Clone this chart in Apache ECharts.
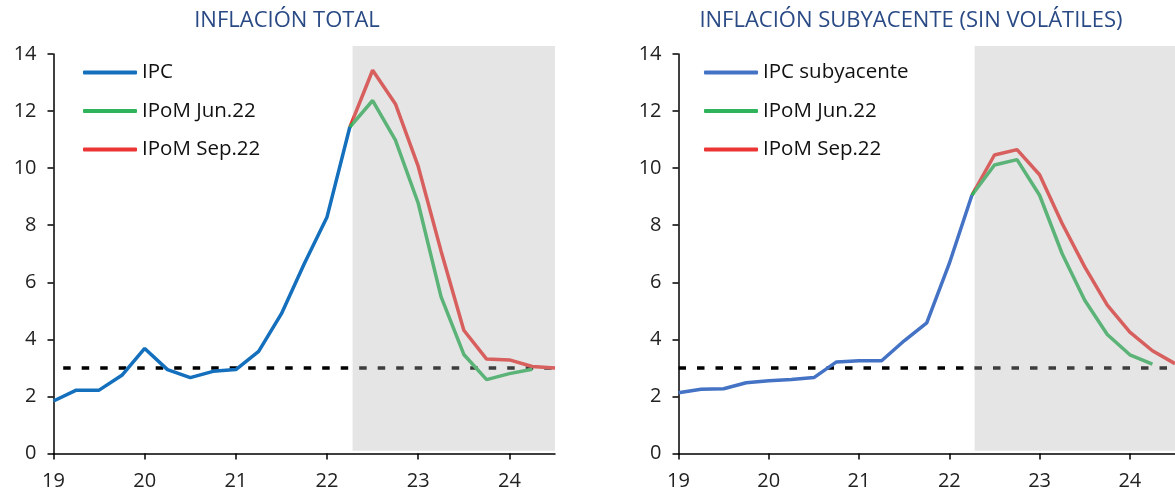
<!DOCTYPE html>
<html>
<head>
<meta charset="utf-8">
<script src="https://cdn.jsdelivr.net/npm/echarts@6/dist/echarts.min.js"></script>
<style>
  html, body { margin: 0; padding: 0; background: #fff; }
  #chart { width: 1175px; height: 493px; }
</style>
</head>
<body>
<div id="chart"></div>
<script>
// trimestres (años decimales)
const histQ = [19, 19.25, 19.5, 19.75, 20, 20.25, 20.5, 20.75, 21, 21.25, 21.5, 21.75, 22, 22.25];
const projQ = [22.25, 22.5, 22.75, 23, 23.25, 23.5, 23.75, 24, 24.25, 24.5];
const xTicks = [19, 20, 21, 22, 23, 24];
// zona de proyección: [x inicio, y base, x fin, y tope]
const shade = [22.28, 0.1, 24.5, 14.28];
const meta = 3;

// inflación total
const ipc = [1.84, 2.22, 2.22, 2.74, 3.68, 2.94, 2.66, 2.88, 2.94, 3.58, 4.9, 6.65, 8.29, 11.44];
const totJun = [11.44, 12.37, 10.98, 8.77, 5.5, 3.47, 2.59, 2.8, 2.95];
const totSep = [11.44, 13.43, 12.25, 10.06, 7.1, 4.32, 3.31, 3.28, 3.05, 3.0];

// inflación subyacente
const ipcSub = [2.13, 2.25, 2.27, 2.48, 2.55, 2.59, 2.66, 3.21, 3.25, 3.25, 3.95, 4.58, 6.66, 9.05];
const subJun = [9.05, 10.11, 10.3, 9.05, 7.0, 5.37, 4.17, 3.46, 3.13];
const subSep = [9.05, 10.46, 10.65, 9.77, 8.06, 6.54, 5.2, 4.25, 3.6, 3.15];

const FONT = "'Open Sans', 'Noto Sans', sans-serif";
const BLUE1 = "#1470bd", BLUE2 = "#4472c4", GREEN = "#2fb45c", RED = "#ec3434";

const pairs = (xs, ys) => ys.map((v, i) => [xs[i], v]);

function line(name, idx, xs, ys, color) {
  return {
    name: name,
    type: "line",
    xAxisIndex: idx,
    yAxisIndex: idx,
    data: pairs(xs, ys),
    showSymbol: false,
    symbol: "none",
    z: 2,
    lineStyle: { color: color, width: 3.5 },
    itemStyle: { color: color },
  };
}

function metaLine(idx, offset) {
  return {
    name: "meta",
    type: "line",
    xAxisIndex: idx,
    yAxisIndex: idx,
    data: [[xTicks[0], meta], [shade[2], meta]],
    showSymbol: false,
    symbol: "none",
    z: 1,
    lineStyle: { color: "#000", width: 3.5, type: [7.5, 11], dashOffset: offset },
  };
}

// velo gris semitransparente sobre las líneas (período proyectado)
function shadeSeries(idx) {
  return {
    name: "proyeccion",
    type: "custom",
    xAxisIndex: idx,
    yAxisIndex: idx,
    z: 5,
    silent: true,
    clip: false,
    encode: { x: [0, 2], y: [1, 3] },
    data: [shade],
    renderItem: function (params, api) {
      const p0 = api.coord([api.value(0), api.value(1)]);
      const p1 = api.coord([api.value(2), api.value(3)]);
      return {
        type: "rect",
        shape: { x: p0[0], y: p1[1], width: p1[0] - p0[0], height: p0[1] - p1[1] },
        style: { fill: "rgba(176,178,176,0.34)" },
      };
    },
  };
}

function xAxis(idx) {
  return {
    type: "value",
    gridIndex: idx,
    min: 19,
    max: 24.5,
    interval: 1,
    splitLine: { show: false },
    axisLine: { lineStyle: { color: "#000", width: 1.5 } },
    axisTick: { length: 6, lineStyle: { color: "#000", width: 1.5 }, customValues: xTicks },
    axisLabel: { customValues: xTicks, margin: 18, fontSize: 20, color: "#222", fontFamily: FONT },
  };
}

function yAxis(idx) {
  return {
    type: "value",
    gridIndex: idx,
    min: 0,
    max: 14,
    interval: 2,
    splitLine: { show: false },
    axisLine: { show: true, lineStyle: { color: "#000", width: 1.5 } },
    axisTick: { show: true, length: 6, lineStyle: { color: "#000", width: 1.5 } },
    axisLabel: { margin: 17, fontSize: 20, color: "#222", fontFamily: FONT },
  };
}

function legend(left, names) {
  return {
    left: left,
    top: 62,
    orient: "vertical",
    icon: "roundRect",
    itemWidth: 54,
    itemHeight: 4,
    itemGap: 17.5,
    padding: 0,
    selectedMode: false,
    data: names,
    textStyle: { fontSize: 20.5, lineHeight: 21, color: "#111", fontFamily: FONT },
  };
}

const chart = echarts.init(document.getElementById("chart"), null, { renderer: "canvas" });

const option = {
  backgroundColor: "#fff",
  animation: false,
  title: [
    {
      text: "INFLACIÓN TOTAL",
      left: 287,
      top: 10,
      padding: 0,
      textAlign: "center",
      textStyle: { fontSize: 22, fontWeight: "normal", color: "#2a4a85", fontFamily: FONT },
    },
    {
      text: "INFLACIÓN SUBYACENTE (SIN VOLÁTILES)",
      left: 911,
      top: 10,
      padding: 0,
      textAlign: "center",
      textStyle: { fontSize: 22, fontWeight: "normal", color: "#2a4a85", fontFamily: FONT },
    },
  ],
  legend: [
    legend(83, ["IPC", "IPoM Jun.22", "IPoM Sep.22"]),
    legend(704, ["IPC subyacente", "IPoM Jun.22", "IPoM Sep.22"]),
  ],
  grid: [
    { left: 53.5, top: 54, width: 501.5, height: 399.5 },
    { left: 678.5, top: 54, width: 497, height: 399.5 },
  ],
  xAxis: [xAxis(0), xAxis(1)],
  yAxis: [yAxis(0), yAxis(1)],
  series: [
    metaLine(0, 8.8),
    line("IPoM Sep.22", 0, projQ, totSep, RED),
    line("IPoM Jun.22", 0, projQ, totJun, GREEN),
    line("IPC", 0, histQ, ipc, BLUE1),
    shadeSeries(0),
    metaLine(1, 0),
    line("IPoM Sep.22", 1, projQ, subSep, RED),
    line("IPoM Jun.22", 1, projQ, subJun, GREEN),
    line("IPC subyacente", 1, histQ, ipcSub, BLUE2),
    shadeSeries(1),
  ],
};

chart.setOption(option);
</script>
</body>
</html>
